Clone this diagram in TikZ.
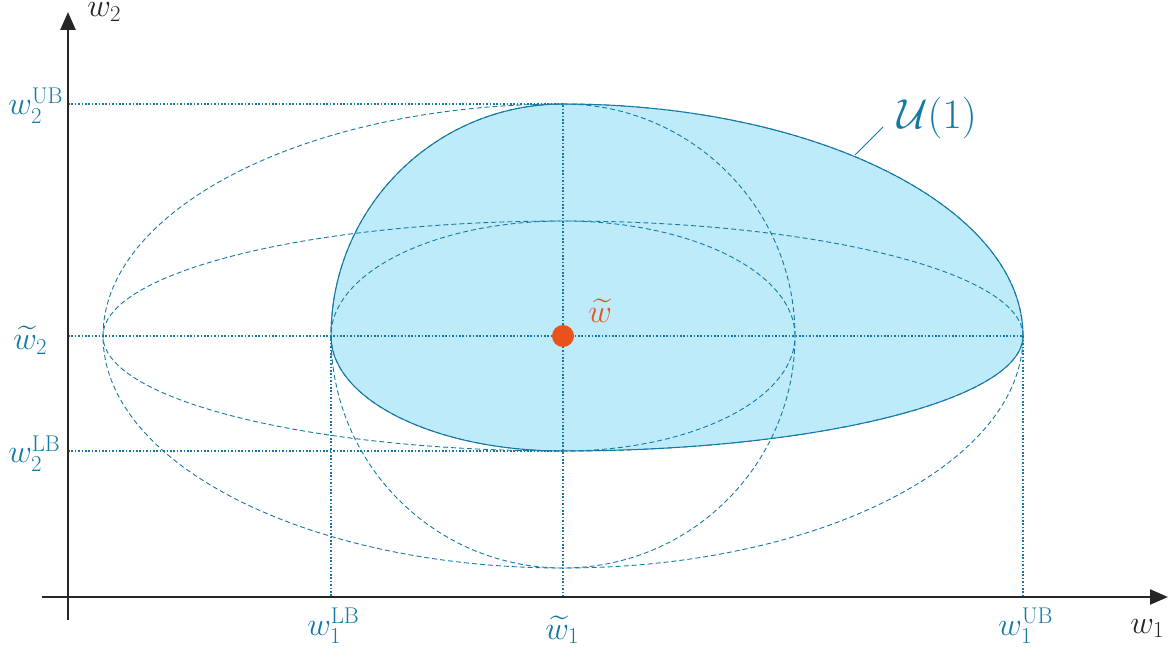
\RequirePackage{fix-cm}
\documentclass[tikz,border=0pt]{standalone}
\definecolor{uTeal}{HTML}{1579A6}
\definecolor{uFill}{HTML}{BDEBFA}
\definecolor{uOrange}{HTML}{E8531B}
\definecolor{uAxis}{HTML}{262626}
\usepackage{amsmath, amssymb}
\usepackage{tikz}
\usetikzlibrary{arrows.meta}

\begin{document}
\begin{tikzpicture}[x=1pt, y=1pt, font=\fontsize{25}{30}\selectfont,
  axis/.style={uAxis, line width=2.4pt, -{Triangle[length=18pt,width=15pt]}},
  guide/.style={uTeal, line width=1.6pt, dash pattern=on 1.6pt off 1.8pt},
  rim/.style={uTeal, line width=0.9pt, dash pattern=on 5pt off 3pt},
  lbl/.style={uTeal, inner sep=0pt, anchor=base west, scale=1.3}]
\useasboundingbox (0,0) rectangle (1175,648);
% key points of the set
\coordinate (c) at (563,312);
\coordinate (lb1) at (331,312);
\coordinate (ub1) at (1023,312);
\coordinate (ub2) at (563,544);
\coordinate (lb2) at (563,197);
% points on the axes
\coordinate (yUB) at (68,544);
\coordinate (yT) at (68,312);
\coordinate (yLB) at (68,197);
\coordinate (xLB) at (331,51);
\coordinate (xT) at (563,51);
\coordinate (xUB) at (1023,51);
% shaded set U(1), four quarter ellipses
\path[fill=uFill, draw=uTeal, line width=1pt] (lb1)
  arc[start angle=180, end angle=90, radius=232]
  arc[start angle=90, end angle=0, x radius=460, y radius=232]
  arc[start angle=0, end angle=-90, x radius=460, y radius=115]
  arc[start angle=270, end angle=180, x radius=232, y radius=115] -- cycle;
% dashed full ellipses
\draw[rim] (c) circle[radius=232];
\draw[rim] (c) ellipse[x radius=460, y radius=232];
\draw[rim] (c) ellipse[x radius=460, y radius=115];
\draw[rim] (c) ellipse[x radius=232, y radius=115];
% guide lines
\draw[guide] (yUB) -- (ub2) -- (xT);
\draw[guide] (yT) -- (ub1) -- (xUB);
\draw[guide] (yLB) -- (lb2);
\draw[guide] (lb1) -- (xLB);
% axes
\coordinate (o1) at (42,51);
\coordinate (e1) at (1168,51);
\coordinate (o2) at (68,28);
\coordinate (e2) at (68,636);
\draw[axis] (o1) -- (e1);
\draw[axis] (o2) -- (e2);
\node[lbl, uAxis] (w1) at (1130,15) {$w_1$};
\node[lbl, uAxis] (w2) at (87,631) {$w_2$};
% centre point
\node[circle, fill=uOrange, minimum size=22pt, inner sep=0pt] (wdot) at (c) {};
\node[lbl, uOrange] (wtil) at (588,325) {$\widetilde{w}$};
% bound labels
\node[lbl] (l2ub) at (8,533) {$w_2^{\mathrm{UB}}$};
\node[lbl] (l2t) at (13,298) {$\widetilde{w}_2$};
\node[lbl] (l2lb) at (8,185) {$w_2^{\mathrm{LB}}$};
\node[lbl] (l1lb) at (307,13) {$w_1^{\mathrm{LB}}$};
\node[lbl] (l1t) at (545,9) {$\widetilde{w}_1$};
\node[lbl] (l1ub) at (998,13) {$w_1^{\mathrm{UB}}$};
% set name
\node[lbl, scale=1.29] (uname) at (897,519) {$\mathcal{U}(1)$};
\coordinate (rimpt) at (855,493);
\coordinate (tagend) at (883,521);
\draw[uTeal, line width=1pt] (rimpt) -- (tagend);
\end{tikzpicture}
\end{document}
